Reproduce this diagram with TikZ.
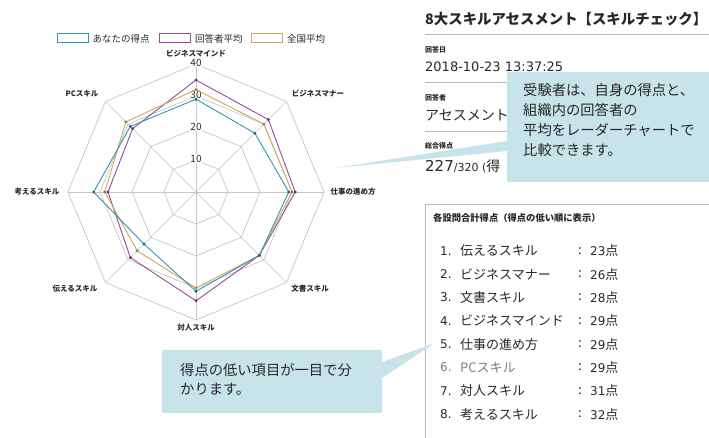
\documentclass[tikz,border=0pt]{standalone}
\usepackage{fontspec}
\setmainfont{Noto Sans CJK JP}
\newfontfamily\latinface{DejaVu Sans}
\usetikzlibrary{positioning}

\definecolor{mineline}{RGB}{46,150,175}
\definecolor{avgline}{RGB}{150,75,150}
\definecolor{natline}{RGB}{200,170,90}
\definecolor{notefill}{RGB}{198,228,233}
\definecolor{ink}{RGB}{40,40,40}

\begin{document}
\begin{tikzpicture}[x=1pt,y=-1pt]

	\tikzset{grid/.style = {draw=gray!45, line width=0.7pt}}
	\tikzset{axislabel/.style = {font=\fontsize{7.5}{8}\selectfont\bfseries, text=ink, inner sep=1pt}}
	\tikzset{tick/.style = {font=\fontsize{10}{10}\selectfont, text=ink, fill=white, inner sep=0.6pt}}
	\tikzset{legendbox/.style = {draw, line width=1pt, fill=white, minimum width=31pt, minimum height=9pt, inner sep=0pt}}
	\tikzset{legendtext/.style = {font=\fontsize{9.5}{10}\selectfont, text=ink, inner sep=0pt}}
	\tikzset{series/.style = {line width=0.9pt, line join=round}}
	\tikzset{rule/.style = {draw=gray!55, line width=1pt}}
	\tikzset{small/.style = {font=\fontsize{7}{8}\selectfont\bfseries, text=ink, anchor=west, inner sep=0pt}}
	\tikzset{field/.style = {font=\fontsize{14}{15}\selectfont, text=ink, anchor=west, inner sep=0pt}}
	\tikzset{item/.style = {font=\fontsize{13}{14}\selectfont, anchor=west, inner sep=0pt}}
	\tikzset{note/.style = {font=\fontsize{14.3}{20.2}\selectfont, text=ink, align=left, anchor=north west, inner sep=0pt}}

	\useasboundingbox (0,0) rectangle (709,438);
	\clip (0,0) rectangle (709,438);

	% legend
	\node[legendbox, draw=mineline] (lg1) at (72.5,38.5) {};
	\node[legendtext, right=4pt of lg1] (lt1) {あなたの得点};
	\node[legendbox, draw=avgline, right=9pt of lt1] (lg2) {};
	\node[legendtext, right=4pt of lg2] (lt2) {回答者平均};
	\node[legendbox, draw=natline, right=8pt of lt2] (lg3) {};
	\node[legendtext, right=4pt of lg3] (lt3) {全国平均};

	% radar
	\begin{scope}[shift={(196,192)}, yscale=-1]
		\foreach \r in {1,...,4}
			\draw[grid] (0:{32*\r}) \foreach \a in {45,90,...,315} { -- (\a:{32*\r}) } -- cycle;
		\foreach \a in {0,45,...,315}
			\draw[grid] (0,0) -- (\a:128);
		\foreach \r in {1,...,4}
			\node[tick] (t\r) at (90:{32*\r+1.5}) {\r0};

		\foreach \v [count=\i] in {35,32,31,28,34,29,27.5,28}
			\coordinate (av\i) at ({135-45*\i}:{3.2*\v});
		\foreach \v [count=\i] in {32,30,30,28,30,26,28.5,31}
			\coordinate (na\i) at ({135-45*\i}:{3.2*\v});
		\foreach \v [count=\i] in {29,26,29,28,31,23,32,29}
			\coordinate (me\i) at ({135-45*\i}:{3.2*\v});

		\draw[series, avgline] (av1) \foreach \i in {2,...,8} { -- (av\i) } -- cycle;
		\draw[series, natline] (na1) \foreach \i in {2,...,8} { -- (na\i) } -- cycle;
		\draw[series, mineline] (me1) \foreach \i in {2,...,8} { -- (me\i) } -- cycle;
		\foreach \i in {1,...,8} {
			\fill[avgline!70!black] (av\i) circle (1.6);
			\fill[natline!75!black] (na\i) circle (1.6);
			\fill[mineline!70!black] (me\i) circle (1.6);
		}
	\end{scope}

	% axis labels
	\node[axislabel] (ax1) at (196,54) {ビジネスマインド};
	\node[axislabel] (ax2) at (318,94) {ビジネスマナー};
	\node[axislabel] (ax3) at (353,192) {仕事の進め方};
	\node[axislabel] (ax4) at (310,289) {文書スキル};
	\node[axislabel] (ax5) at (196,328) {対人スキル};
	\node[axislabel] (ax6) at (75,289) {伝えるスキル};
	\node[axislabel] (ax7) at (37,192) {考えるスキル};
	\node[axislabel] (ax8) at (82,94) {PCスキル};

	% result panel
	\node[font=\fontsize{14.4}{16}\selectfont\bfseries, text=ink, anchor=west, inner sep=0pt] (title) at (425,19) {8大スキルアセスメント【スキルチェック】};
	\draw[rule] (425,35) -- (712,35);
	\node[small] (dlabel) at (425,50) {回答日};
	\node[field, font=\latinface\fontsize{13}{15}\selectfont] (date) at (425,67) {2018-10-23 13:37:25};
	\draw[rule] (425,83) -- (712,83);
	\node[small] (plabel) at (425,98) {回答者};
	\node[field] (person) at (425,115) {アセスメントテ};
	\draw[rule] (425,132) -- (712,132);
	\node[small] (slabel) at (425,146) {総合得点};
	\node[field] (score) at (425,166) {{\latinface\fontsize{15}{16}\selectfont 227\fontsize{11}{14}\selectfont/320 (}得};

	% list
	\draw[draw=gray!55, line width=1pt] (425,205) rectangle (720,450);
	\node[small, font=\fontsize{9.3}{10}\selectfont\bfseries] (lhead) at (433,218) {各設問合計得点（得点の低い順に表示）};
	\foreach \name/\pts/\col [count=\i] in {伝えるスキル/23/ink, ビジネスマナー/26/ink, 文書スキル/28/ink, ビジネスマインド/29/ink, 仕事の進め方/29/ink, PCスキル/29/gray, 対人スキル/31/ink, 考えるスキル/32/ink} {
		\node[item, text=\col] (n\i) at (440,{227.7+23.3*\i}) {{\latinface\fontsize{12}{14}\selectfont\i.}};
		\node[item, text=\col] (k\i) at (460,{227.7+23.3*\i}) {\name};
		\node[item, text=ink] (c\i) at (578,{227.7+23.3*\i}) {:};
		\node[item, text=ink] (p\i) at (590,{227.7+23.3*\i}) {{\latinface\fontsize{12}{14}\selectfont\pts}点};
	}

	% notes
	\fill[notefill] (507,72) rectangle (712,182);
	\coordinate (tip1) at (335,168);
	\fill[notefill] (507,141) -- (tip1) -- (507,151) -- cycle;
	\node[note] (note1) at (523,83) {受験者は、自身の得点と、\\組織内の回答者の\\平均をレーダーチャートで\\比較できます。};

	\fill[notefill] (162,350) rectangle (382,413);
	\coordinate (tip2) at (435,343);
	\fill[notefill] (382,362) -- (tip2) -- (382,378) -- cycle;
	\node[note, font=\fontsize{14.3}{19.5}\selectfont] (note2) at (180,363) {得点の低い項目が一目で分\\かります。};

\end{tikzpicture}
\end{document}
